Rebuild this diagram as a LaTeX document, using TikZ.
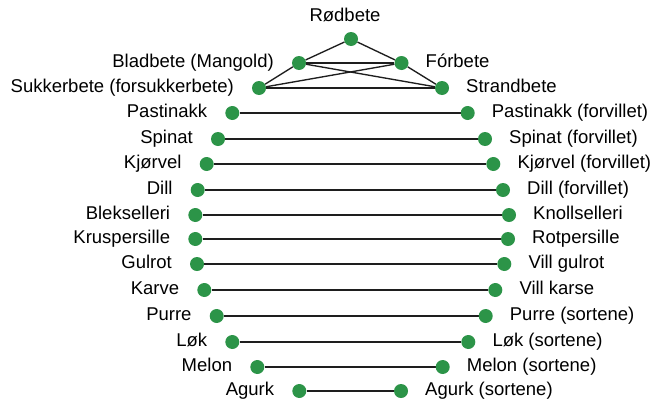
\documentclass[tikz,border=0pt]{standalone}
\usepackage{fontspec}
\setmainfont{Liberation Sans}
\usetikzlibrary{backgrounds}
\definecolor{dotgreen}{RGB}{44,148,72}
\definecolor{edgegray}{RGB}{30,30,30}
\begin{document}
\begin{tikzpicture}[x=1pt,y=-1pt,
  dot/.style={circle,fill=dotgreen,inner sep=0pt,minimum size=14pt},
  txt/.style={font=\fontsize{18.5}{20}\selectfont,inner sep=0pt},
  tl/.style={txt,anchor=base east},
  tr/.style={txt,anchor=base west},
  link/.style={draw=edgegray,line width=1.35pt}]
\useasboundingbox (0,0) rectangle (655,399);
% dots
\node[dot] (r)  at (351,39) {};
\node[dot] (b)  at (299,63) {};
\node[dot] (f)  at (401.5,63) {};
\node[dot] (su) at (259,88) {};
\node[dot] (st) at (442,88) {};
\node[dot] (l1)  at (232.3,113) {};  \node[dot] (r1)  at (467.7,113) {};
\node[dot] (l2)  at (218,139) {};    \node[dot] (r2)  at (485,139) {};
\node[dot] (l3)  at (206.7,164) {};  \node[dot] (r3)  at (493.3,164) {};
\node[dot] (l4)  at (197.7,190) {};  \node[dot] (r4)  at (503,190) {};
\node[dot] (l5)  at (195.3,215) {};  \node[dot] (r5)  at (509,215) {};
\node[dot] (l6)  at (195.3,239) {};  \node[dot] (r6)  at (508,239) {};
\node[dot] (l7)  at (197,264) {};    \node[dot] (r7)  at (504.3,264) {};
\node[dot] (l8)  at (204.3,290) {};  \node[dot] (r8)  at (495.3,290) {};
\node[dot] (l9)  at (216.7,316) {};  \node[dot] (r9)  at (485.7,316) {};
\node[dot] (l10) at (232.3,342) {};  \node[dot] (r10) at (468.3,342) {};
\node[dot] (l11) at (257.3,367) {};  \node[dot] (r11) at (442.7,367) {};
\node[dot] (l12) at (299.3,391) {};  \node[dot] (r12) at (401,391) {};
% labels
\node[txt,anchor=base] (tr0) at ([shift={(-6,-17.3)}]r.center) {Rødbete};
\node[tl] (tb)  at ([shift={(-25,4.3)}]b.center) {Bladbete (Mangold)};
\node[tr] (tf)  at ([shift={(24,4.3)}]f.center) {Fórbete};
\node[tl] (tsu) at ([shift={(-25,4.3)}]su.center) {Sukkerbete (forsukkerbete)};
\node[tr] (tst) at ([shift={(24,4.3)}]st.center) {Strandbete};
\foreach \n/\a/\bb in {1/Pastinakk/Pastinakk (forvillet),
  2/Spinat/Spinat (forvillet),
  3/Kjørvel/Kjørvel (forvillet),
  4/Dill/Dill (forvillet),
  5/Blekselleri/Knollselleri,
  6/Kruspersille/Rotpersille,
  7/Gulrot/Vill gulrot,
  8/Karve/Vill karse,
  9/Purre/Purre (sortene),
  10/Løk/Løk (sortene),
  11/Melon/Melon (sortene),
  12/Agurk/Agurk (sortene)}{
  \node[tl] (tl\n) at ([shift={(-25,4.2)}]l\n.center) {\a};
  \node[tr] (tr\n) at ([shift={(24,4.2)}]r\n.center) {\bb};
}
% links
\begin{scope}[on background layer]
\draw[link] (r) -- (b);
\draw[link] (r) -- (f);
\draw[link] (b) -- (f);
\draw[link] (b) -- (st);
\draw[link] (su) -- (f);
\draw[link] (su) -- (st);
\draw[link] (su) -- (b);
\draw[link] (f) -- (st);
\foreach \n in {1,...,12}{\draw[link] (l\n) -- (r\n);}
\end{scope}
\end{tikzpicture}
\end{document}
